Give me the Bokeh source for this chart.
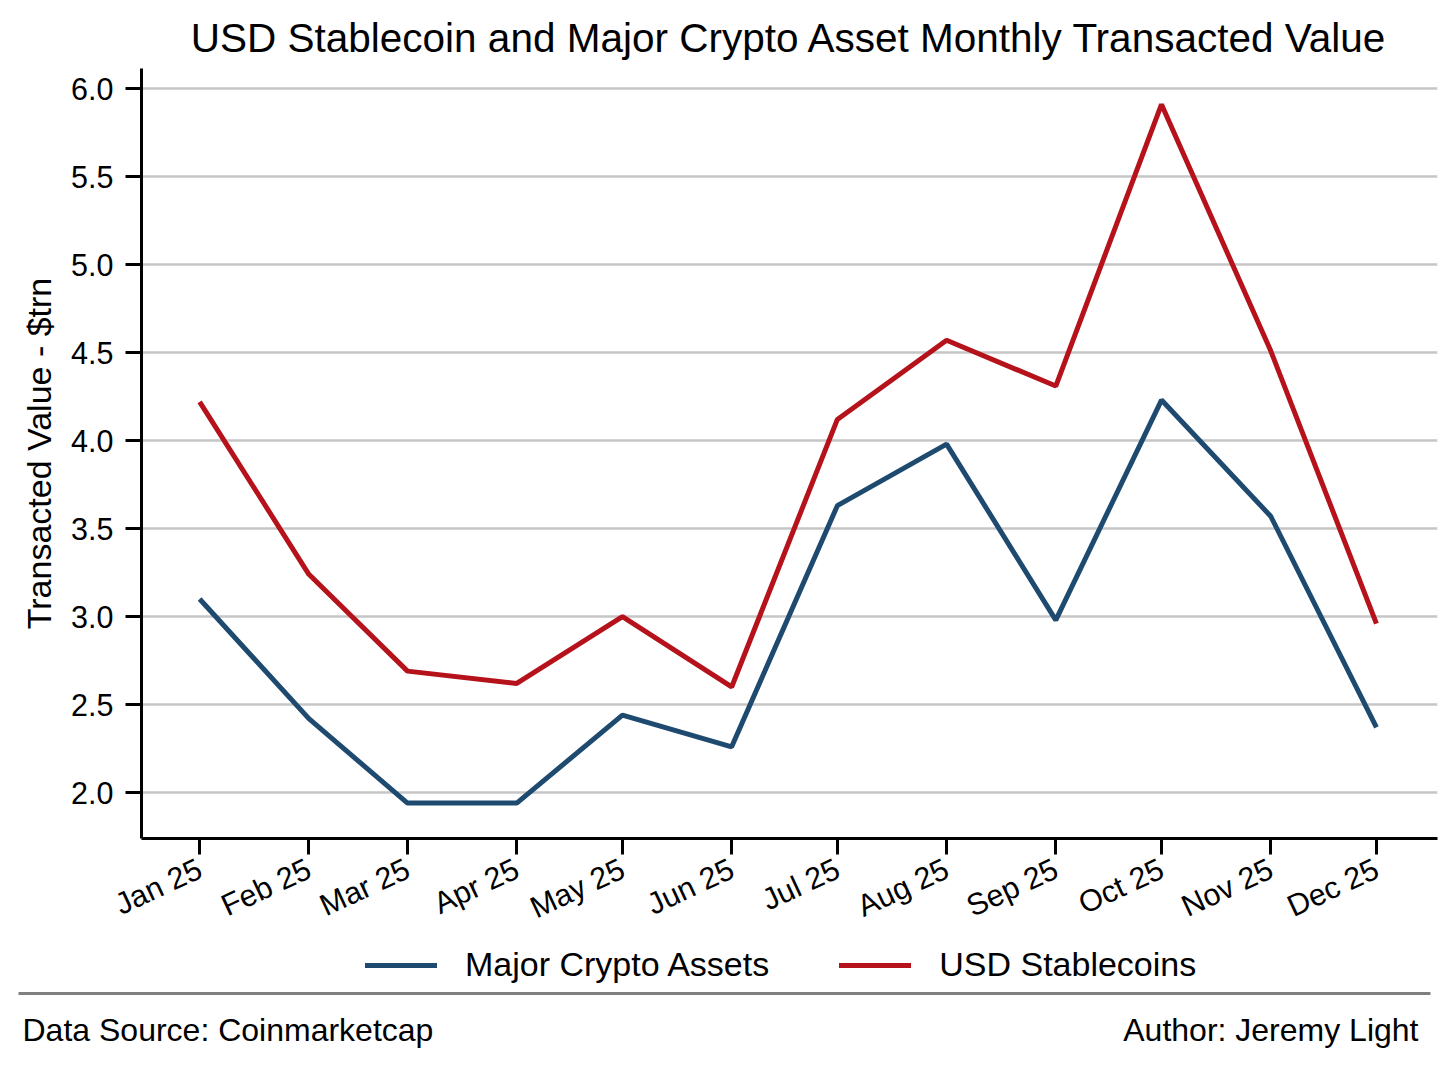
import math
import pandas as pd
from bokeh.plotting import figure
from bokeh.models import (Range1d, FixedTicker, DatetimeTickFormatter, PrintfTickFormatter,
                          Legend, LegendItem, ColumnDataSource)
from bokeh.embed import file_html
from bokeh.resources import INLINE
from bokeh.core.properties import value

# ---------------- data ----------------
months = ["2025-01-01", "2025-02-01", "2025-03-01", "2025-04-01", "2025-05-01", "2025-06-01",
          "2025-07-01", "2025-08-01", "2025-09-01", "2025-10-01", "2025-11-01", "2025-12-01"]
major_crypto = [3.10, 2.42, 1.94, 1.94, 2.44, 2.26, 3.63, 3.98, 2.98, 4.23, 3.57, 2.37]
usd_stablecoins = [4.22, 3.24, 2.69, 2.62, 3.00, 2.60, 4.12, 4.57, 4.31, 5.91, 4.51, 2.96]
y_ticks = [2.0, 2.5, 3.0, 3.5, 4.0, 4.5, 5.0, 5.5, 6.0]
series_names = ["Major Crypto Assets", "USD Stablecoins"]
title_text = "USD Stablecoin and Major Crypto Asset Monthly Transacted Value"
y_label = "Transacted Value - $trn"
source_text = "Data Source: Coinmarketcap"
author_text = "Author: Jeremy Light"

FONT = "Liberation Sans"
BLUE = "#1f4a70"
RED = "#b5121b"

dates = pd.to_datetime(months)
src = ColumnDataSource(dict(date=dates, major=major_crypto, usd=usd_stablecoins))

W = 1448
H = 942
p = figure(width=W, height=H, x_axis_type="datetime",
           output_backend="svg", toolbar_location=None,
           x_range=Range1d(pd.Timestamp("2024-12-15 12:00"), pd.Timestamp("2025-12-18 08:00")),
           y_range=Range1d(1.739, 6.114),
           min_border_left=141, min_border_right=11, min_border_top=68, min_border_bottom=104)

p.outline_line_color = None
p.xgrid.visible = False
p.ygrid.grid_line_color = "#c6c6c6"
p.ygrid.grid_line_width = 2.5
p.ygrid.ticker = FixedTicker(ticks=y_ticks)

p.line("date", "major", source=src, line_color=BLUE, line_width=5)
p.line("date", "usd", source=src, line_color=RED, line_width=5)

# title
p.title.text = title_text
p.title.align = "center"
p.title.text_font = FONT
p.title.text_font_size = "40.5px"
p.title.text_font_style = "normal"
p.title.text_color = "black"
p.title.standoff = 16

# axes
for ax in (p.xaxis[0], p.yaxis[0]):
    ax.axis_line_width = 3
    ax.axis_line_color = "black"
    ax.major_tick_line_width = 3
    ax.major_tick_line_color = "black"
    ax.major_tick_in = 0
    ax.major_tick_out = 16
    ax.minor_tick_line_color = None
    ax.major_label_text_font = FONT
    ax.major_label_text_font_size = "30.5px"
    ax.major_label_text_color = "black"

p.xaxis.ticker = FixedTicker(ticks=[d.timestamp() * 1000 for d in dates])
fmt = "%b %y"
p.xaxis.formatter = DatetimeTickFormatter(microseconds=fmt, milliseconds=fmt, seconds=fmt, minsec=fmt,
                                          minutes=fmt, hourmin=fmt, hours=fmt, days=fmt,
                                          months=fmt, years=fmt)
p.xaxis.major_label_orientation = math.radians(25)
p.xaxis.major_label_standoff = 12

p.yaxis.ticker = FixedTicker(ticks=y_ticks)
p.yaxis.formatter = PrintfTickFormatter(format="%.1f")
p.yaxis.major_label_standoff = 12
p.yaxis.axis_label = y_label
p.yaxis.axis_label_text_font = FONT
p.yaxis.axis_label_text_font_size = "34px"
p.yaxis.axis_label_text_font_style = "normal"
p.yaxis.axis_label_text_color = "black"
p.yaxis.axis_label_standoff = 10

# bottom strip: legend + source line (separate root, pixel coordinates)
FH = 122
f = figure(width=W, height=FH, output_backend="svg", toolbar_location=None,
           x_range=Range1d(0, W), y_range=Range1d(0, FH),
           min_border_left=0, min_border_right=0, min_border_top=0, min_border_bottom=0)
f.axis.visible = False
f.grid.visible = False
f.outline_line_color = None

# legend keys: same series (they fall far outside this strip's ranges, only their swatches show)
k1 = f.line("date", "major", source=src, line_color=BLUE, line_width=5, line_cap="round")
k2 = f.line("date", "usd", source=src, line_color=RED, line_width=5, line_cap="round")
legend = Legend(items=[LegendItem(label=series_names[0], renderers=[k1]),
                       LegendItem(label=series_names[1], renderers=[k2])],
                orientation="horizontal", location=(365, 80),
                glyph_width=72, glyph_height=36, label_height=36,
                label_standoff=28, spacing=70,
                label_text_font=FONT, label_text_font_size="34px", label_text_color="black",
                border_line_color=None, background_fill_alpha=0,
                padding=0, margin=0)
f.add_layout(legend, "center")

f.segment(x0=[18], x1=[1430], y0=[71], y1=[71], line_color="#7f7f7f", line_width=3)
f.text(x=[22], y=[35], text=[source_text], text_font=value(FONT), text_font_size="32px",
       text_align="left", text_baseline="middle", text_color="black")
f.text(x=[1418], y=[35], text=[author_text], text_font=value(FONT), text_font_size="32px",
       text_align="right", text_baseline="middle", text_color="black")

open("out.html", "w").write(file_html([p, f], INLINE))
